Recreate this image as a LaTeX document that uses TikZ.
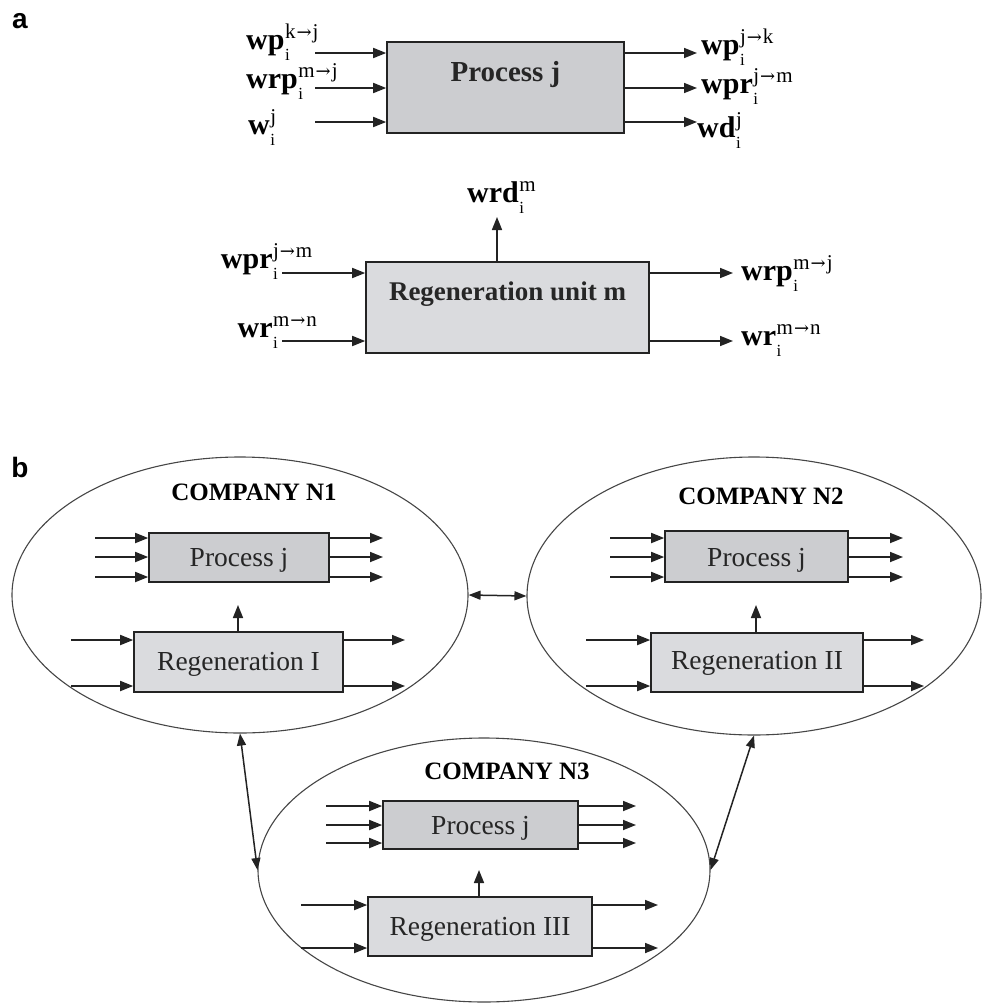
\documentclass[tikz,border=0pt]{standalone}
\usepackage{fontspec}
\setmainfont{Liberation Serif}
\newfontfamily\sansfam{Liberation Sans}
\newfontfamily\arrfam{DejaVu Serif}
\usetikzlibrary{arrows.meta,shapes.geometric}
\definecolor{linec}{RGB}{35,35,35}
\definecolor{boxdark}{RGB}{204,205,208}
\definecolor{boxlight}{RGB}{218,219,222}
\definecolor{ellc}{RGB}{70,70,70}
\newcommand{\supf}{\fontsize{21}{21}\selectfont}
\newcommand{\subf}{\fontsize{17}{17}\selectfont}
\newcommand{\myra}{{\arrfam\fontsize{18}{18}\selectfont →}}
\newcommand{\wlab}[3]{\textbf{#1}\kern0.5pt\rlap{\raisebox{11pt}{\supf #3}}\raisebox{-11pt}{\subf #2}}
\begin{document}
\begin{tikzpicture}[x=1pt,y=-1pt,
  arr/.style={draw=linec,line width=1.7pt,-{Triangle[length=13pt,width=10pt]}},
  darr/.style={draw=linec,line width=1.5pt,{Triangle[length=12pt,width=9pt]}-{Triangle[length=12pt,width=9pt]}},
  boxa/.style={draw=linec,line width=1.6pt,fill=boxdark,inner sep=0pt},
  boxb/.style={draw=linec,line width=1.6pt,fill=boxlight,inner sep=0pt},
  comp/.style={ellipse,draw=ellc,line width=1.1pt,inner sep=0pt},
  lab/.style={inner sep=0pt,font=\fontsize{30}{30}\selectfont},
  atxt/.style={inner sep=0pt,font=\bfseries\fontsize{29}{30}\selectfont,text=black!85,anchor=base},
  btxt/.style={inner sep=0pt,font=\fontsize{27.5}{30}\selectfont,text=black!85,anchor=base},
  ctxt/.style={inner sep=0pt,font=\bfseries\fontsize{25}{26}\selectfont,anchor=base},
  panel/.style={inner sep=0pt,font=\sansfam\bfseries\fontsize{28}{28}\selectfont,anchor=base},
]
\useasboundingbox (0,0) rectangle (983,1004);

% ---------------- panel a ----------------
\node[panel] (la) at (20,28) {a};

\node[boxa,minimum width=237,minimum height=91] (pa) at (505.5,87.5) {};
\node[atxt] (pat) at (505.5,81) {Process j};
\coordinate (pai1) at (315,53);
\coordinate (pai2) at (315,88);
\coordinate (pai3) at (315,122);
\coordinate (pao1) at (697,53);
\coordinate (pao2) at (697,88);
\coordinate (pao3) at (697,122);
\foreach \c in {pai1,pai2,pai3} \draw[arr] (\c) -- (\c -| pa.west);
\foreach \c in {pao1,pao2,pao3} \draw[arr] (\c -| pa.east) -- (\c);

\node[lab,anchor=base west] (l1) at (246,49) {\wlab{wp}{i}{k\kern1pt\myra\kern1pt j}};
\node[lab,anchor=base west] (l2) at (246,88) {\wlab{wrp}{i}{m\kern1pt\myra\kern1pt j}};
\node[lab,anchor=base west] (l3) at (248,134) {\wlab{w}{i}{j}};
\node[lab,anchor=base west] (r1) at (701,54) {\wlab{wp}{i}{j\kern1pt\myra\kern1pt k}};
\node[lab,anchor=base west] (r2) at (701,93) {\wlab{wpr}{i}{j\kern1pt\myra\kern1pt m}};
\node[lab,anchor=base west] (r3) at (697,137) {\wlab{wd}{i}{j}};

\node[boxb,minimum width=283,minimum height=91] (ra) at (507.5,307.5) {};
\node[atxt,font=\bfseries\fontsize{27}{30}\selectfont] (rat) at (507.5,300) {Regeneration unit m};
\coordinate (raup) at (497,217);
\draw[arr] (raup |- ra.north) -- (raup);
\node[lab,anchor=base west] (rd) at (467,202) {\wlab{wrd}{i}{m}};
\coordinate (rai1) at (282,273);
\coordinate (rai2) at (282,341);
\coordinate (rao1) at (733,273);
\coordinate (rao2) at (733,341);
\foreach \c in {rai1,rai2} \draw[arr] (\c) -- (\c -| ra.west);
\foreach \c in {rao1,rao2} \draw[arr] (\c -| ra.east) -- (\c);
\node[lab,anchor=base east] (rl1) at (278,268) {\wlab{wpr}{i}{j\kern1pt\myra\kern1pt m}};
\node[lab,anchor=base east] (rl2) at (278,337) {\wlab{wr}{i}{m\kern1pt\myra\kern1pt n}};
\node[lab,anchor=base west] (rr1) at (741,280) {\wlab{wrp}{i}{m\kern1pt\myra\kern1pt j}};
\node[lab,anchor=base west] (rr2) at (741,345) {\wlab{wr}{i}{m\kern1pt\myra\kern1pt n}};

% ---------------- panel b ----------------
\node[panel] (lb) at (20,477) {b};

% Company N1
\node[comp,minimum width=456,minimum height=276] (n1) at (240,595) {};
\node[ctxt] (n1t) at (254,500) {COMPANY N1};
\node[boxa,minimum width=180,minimum height=49] (p1) at (239,557.5) {};
\node[btxt] (p1t) at (239,566) {Process j};
\node[boxb,minimum width=209,minimum height=60] (g1) at (238.5,662) {};
\node[btxt] (g1t) at (238.5,670) {Regeneration I};
\foreach \yy in {538,557,577} {
  \coordinate (a) at (95,\yy); \coordinate (b) at (383,\yy);
  \draw[arr] (a) -- (a -| p1.west);
  \draw[arr] (b -| p1.east) -- (b);
}
\foreach \yy in {640,686} {
  \coordinate (a) at (71,\yy); \coordinate (b) at (405,\yy);
  \draw[arr] (a) -- (a -| g1.west);
  \draw[arr] (b -| g1.east) -- (b);
}
\coordinate (u1) at (238,605);
\draw[arr] (u1 |- g1.north) -- (u1);

% Company N2
\node[comp,minimum width=454,minimum height=278] (n2) at (754,596) {};
\node[ctxt] (n2t) at (761,504) {COMPANY N2};
\node[boxa,minimum width=183,minimum height=51] (p2) at (756.5,556.5) {};
\node[btxt] (p2t) at (756.5,566) {Process j};
\node[boxb,minimum width=212,minimum height=59] (g2) at (757,662.5) {};
\node[btxt] (g2t) at (757,669) {Regeneration II};
\foreach \yy in {538,557,577} {
  \coordinate (a) at (610,\yy); \coordinate (b) at (903,\yy);
  \draw[arr] (a) -- (a -| p2.west);
  \draw[arr] (b -| p2.east) -- (b);
}
\foreach \yy in {640,686} {
  \coordinate (a) at (586,\yy); \coordinate (b) at (924,\yy);
  \draw[arr] (a) -- (a -| g2.west);
  \draw[arr] (b -| g2.east) -- (b);
}
\coordinate (u2) at (756,605);
\draw[arr] (u2 |- g2.north) -- (u2);

% Company N3
\node[comp,minimum width=452,minimum height=264] (n3) at (484,870) {};
\node[ctxt] (n3t) at (507,779) {COMPANY N3};
\node[boxa,minimum width=195,minimum height=48] (p3) at (480.5,825) {};
\node[btxt] (p3t) at (480.5,834) {Process j};
\node[boxb,minimum width=224,minimum height=59] (g3) at (480,926.5) {};
\node[btxt] (g3t) at (480,935) {Regeneration III};
\foreach \yy in {806,825,843} {
  \coordinate (a) at (326,\yy); \coordinate (b) at (636,\yy);
  \draw[arr] (a) -- (a -| p3.west);
  \draw[arr] (b -| p3.east) -- (b);
}
\foreach \yy in {905,948} {
  \coordinate (a) at (301,\yy); \coordinate (b) at (658,\yy);
  \draw[arr] (a) -- (a -| g3.west);
  \draw[arr] (b -| g3.east) -- (b);
}
\coordinate (u3) at (479,870);
\draw[arr] (u3 |- g3.north) -- (u3);

% links between companies
\draw[darr] (n1.east) -- (n2.west);
\draw[darr] (n1.south) -- (n3.west);
\draw[darr] (n2.south) -- (n3.east);
\end{tikzpicture}
\end{document}
